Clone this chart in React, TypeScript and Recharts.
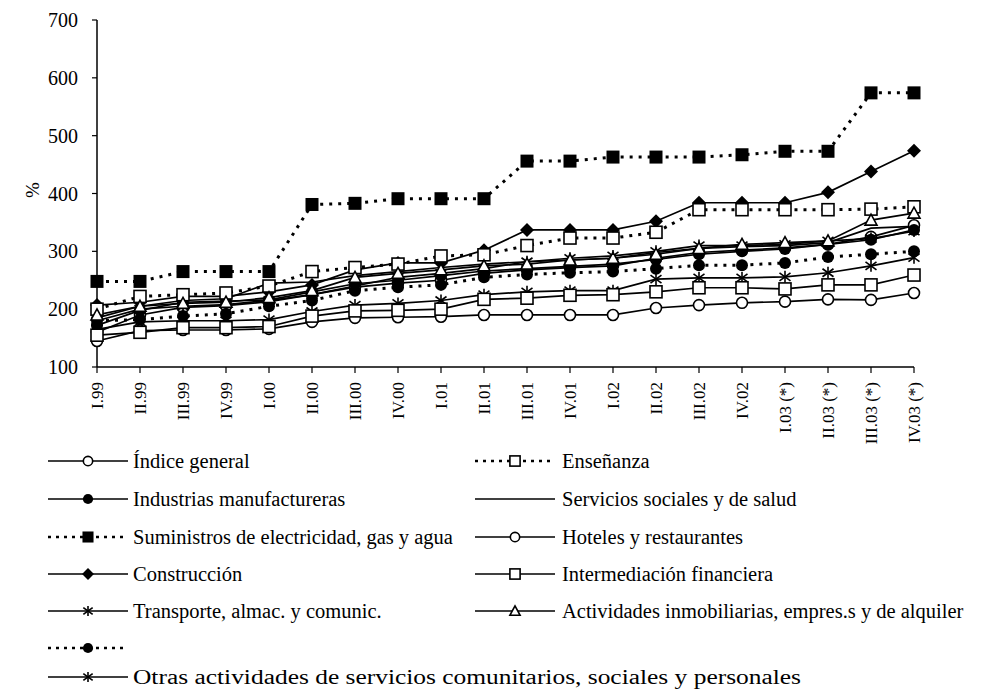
import { LineChart, Line, XAxis, YAxis } from 'recharts'

const categories = ['I.99', 'II.99', 'III.99', 'IV.99', 'I.00', 'II.00', 'III.00', 'IV.00', 'I.01', 'II.01', 'III.01', 'IV.01', 'I.02', 'II.02', 'III.02', 'IV.02', 'I.03 (*)', 'II.03 (*)', 'III.03 (*)', 'IV.03 (*)']
const yTicks = [100, 200, 300, 400, 500, 600, 700]

const indiceGeneral = [160, 190, 203, 206, 213, 225, 238, 245, 250, 262, 268, 272, 275, 288, 298, 302, 306, 312, 325, 345]
const industrias = [172, 198, 212, 214, 216, 230, 244, 250, 258, 266, 270, 274, 278, 286, 295, 300, 304, 312, 320, 337]
const suministros = [248, 248, 265, 265, 265, 381, 383, 391, 391, 391, 456, 456, 463, 463, 463, 467, 473, 473, 574, 574]
const construccion = [207, 212, 222, 222, 230, 242, 268, 280, 280, 302, 337, 337, 337, 352, 384, 384, 384, 402, 438, 474]
const transporte = [180, 200, 205, 208, 215, 225, 240, 255, 262, 270, 282, 288, 292, 300, 310, 310, 312, 318, 322, 335]
const sinNombre = [180, 182, 188, 192, 205, 215, 232, 238, 242, 255, 260, 263, 265, 270, 276, 276, 280, 290, 295, 300]
const otras = [165, 178, 180, 180, 182, 196, 207, 210, 215, 225, 230, 232, 232, 252, 254, 254, 256, 263, 275, 289]
const ensenanza = [200, 222, 225, 228, 240, 265, 272, 278, 292, 294, 310, 323, 323, 333, 372, 372, 372, 372, 373, 377]
const servicios = [185, 205, 215, 218, 245, 247, 258, 265, 272, 278, 282, 285, 288, 298, 305, 308, 310, 315, 340, 343]
const hoteles = [145, 163, 164, 164, 166, 178, 185, 186, 187, 190, 190, 190, 190, 202, 207, 211, 213, 217, 216, 228]
const intermediacion = [155, 160, 168, 168, 170, 188, 197, 198, 200, 217, 219, 224, 225, 230, 237, 237, 235, 242, 242, 259]
const actividades = [190, 205, 210, 212, 220, 232, 255, 262, 268, 275, 278, 285, 288, 295, 305, 312, 315, 318, 354, 366]

type Shape = 'openCircle' | 'filledCircle' | 'filledSquare' | 'diamond' | 'asterisk' | 'openSquare' | 'triangle' | 'none'

interface SeriesDef {
  key: string
  name: string
  values: number[]
  shape: Shape
  dotted: boolean
}

const series: SeriesDef[] = [
  { key: 'ig', name: 'Índice general', values: indiceGeneral, shape: 'openCircle', dotted: false },
  { key: 'im', name: 'Industrias manufactureras', values: industrias, shape: 'filledCircle', dotted: false },
  { key: 'su', name: 'Suministros de electricidad, gas y agua', values: suministros, shape: 'filledSquare', dotted: true },
  { key: 'co', name: 'Construcción', values: construccion, shape: 'diamond', dotted: false },
  { key: 'tr', name: 'Transporte, almac. y comunic.', values: transporte, shape: 'asterisk', dotted: false },
  { key: 'sn', name: '', values: sinNombre, shape: 'filledCircle', dotted: true },
  { key: 'ot', name: 'Otras actividades de servicios comunitarios, sociales y personales', values: otras, shape: 'asterisk', dotted: false },
  { key: 'en', name: 'Enseñanza', values: ensenanza, shape: 'openSquare', dotted: true },
  { key: 'ss', name: 'Servicios sociales y de salud', values: servicios, shape: 'none', dotted: false },
  { key: 'ho', name: 'Hoteles y restaurantes', values: hoteles, shape: 'openCircle', dotted: false },
  { key: 'if', name: 'Intermediación financiera', values: intermediacion, shape: 'openSquare', dotted: false },
  { key: 'ai', name: 'Actividades inmobiliarias, empres.s y de alquiler', values: actividades, shape: 'triangle', dotted: false },
]

const data = categories.map((cat, i) => {
  const row: Record<string, string | number> = { cat }
  series.forEach(s => { row[s.key] = s.values[i] })
  return row
})

const FONT = "'Liberation Serif', 'Times New Roman', serif"

function Marker({ shape, cx, cy, k = 1 }: { shape: Shape; cx: number; cy: number; k?: number }) {
  switch (shape) {
    case 'openCircle':
      return <circle cx={cx} cy={cy} r={5.5 * k} fill="#fff" stroke="#000" strokeWidth={1.6} />
    case 'filledCircle':
      return <circle cx={cx} cy={cy} r={6 * k} fill="#000" />
    case 'filledSquare':
      return <rect x={cx - 6.5 * k} y={cy - 6.5 * k} width={13 * k} height={13 * k} fill="#000" />
    case 'openSquare':
      return <rect x={cx - 6 * k} y={cy - 6 * k} width={12 * k} height={12 * k} fill="#fff" stroke="#000" strokeWidth={1.6} />
    case 'diamond':
      return <path d={`M${cx},${cy - 7 * k} L${cx + 7 * k},${cy} L${cx},${cy + 7 * k} L${cx - 7 * k},${cy} Z`} fill="#000" />
    case 'triangle':
      return <path d={`M${cx},${cy - 6 * k} L${cx + 6 * k},${cy + 5 * k} L${cx - 6 * k},${cy + 5 * k} Z`} fill="#fff" stroke="#000" strokeWidth={1.6} />
    case 'asterisk':
      return (
        <g stroke="#000" strokeWidth={1.6}>
          <line x1={cx} y1={cy - 6 * k} x2={cx} y2={cy + 6 * k} />
          <line x1={cx - 5.5 * k} y1={cy - 4 * k} x2={cx + 5.5 * k} y2={cy + 4 * k} />
          <line x1={cx - 5.5 * k} y1={cy + 4 * k} x2={cx + 5.5 * k} y2={cy - 4 * k} />
        </g>
      )
    default:
      return null
  }
}

const makeDot = (shape: Shape) => (props: any) => {
  const { cx, cy, index } = props
  if (cx == null || cy == null) return <g key={index} />
  return <Marker key={index} shape={shape} cx={cx} cy={cy} />
}

const XTick = (props: any) => {
  const { x, y, payload } = props
  return (
    <text
      transform={`translate(${x},${y}) rotate(-90)`}
      textAnchor="end"
      dy="0.35em"
      fontSize={17}
      fontFamily={FONT}
      fill="#000"
    >
      {payload.value}
    </text>
  )
}

const leftRows = [461, 499, 537, 574, 611, 648, 677]
const rightRows = [461, 499, 537, 574, 611]

function LegendItem({ s, x1, x2, tx, y, stretch }: { s: SeriesDef; x1: number; x2: number; tx: number; y: number; stretch?: number }) {
  return (
    <g>
      <line
        x1={x1}
        x2={x2}
        y1={y}
        y2={y}
        stroke="#000"
        strokeWidth={s.dotted ? 2.5 : 1.6}
        strokeDasharray={s.dotted ? '3 5' : undefined}
      />
      <Marker shape={s.shape} cx={(x1 + x2) / 2} cy={y} k={0.85} />
      {s.name && (
        <text
          x={tx}
          y={y}
          dy="0.35em"
          fontSize={20.5}
          fontFamily={FONT}
          fill="#000"
          textLength={stretch}
          lengthAdjust={stretch ? 'spacingAndGlyphs' : undefined}
        >
          {s.name}
        </text>
      )}
    </g>
  )
}

export default function App() {
  const left = series.slice(0, 7)
  const right = series.slice(7)
  return (
    <div style={{ position: 'relative', width: 983, height: 690, background: '#fff', fontFamily: FONT }}>
      <style>{'body{margin:0}'}</style>
      <div style={{ position: 'absolute', left: 0, top: 0 }}>
        <LineChart width={983} height={460} data={data} margin={{ top: 20, right: 69, bottom: 13, left: 37 }}>
          <XAxis
            dataKey="cat"
            interval={0}
            height={80}
            tick={<XTick />}
            tickSize={6}
            tickMargin={9}
            axisLine={{ stroke: '#000', strokeWidth: 1.5 }}
            tickLine={{ stroke: '#000', strokeWidth: 1.2 }}
          />
          <YAxis
            type="number"
            domain={[100, 700]}
            ticks={yTicks}
            width={60}
            tickSize={5}
            tickMargin={14}
            tick={{ fontSize: 20, fill: '#000', fontFamily: FONT }}
            axisLine={{ stroke: '#000', strokeWidth: 1.5 }}
            tickLine={{ stroke: '#000', strokeWidth: 1.2 }}
          />
          {series.map(s => (
            <Line
              key={s.key}
              dataKey={s.key}
              name={s.name}
              type="linear"
              stroke="#000"
              strokeWidth={s.dotted ? 3 : 1.7}
              strokeDasharray={s.dotted ? '3 6' : undefined}
              dot={s.shape === 'none' ? false : makeDot(s.shape)}
              activeDot={false}
              isAnimationActive={false}
            />
          ))}
        </LineChart>
      </div>
      <svg width={983} height={690} style={{ position: 'absolute', left: 0, top: 0, pointerEvents: 'none' }}>
        <text transform="translate(32,190) rotate(-90)" textAnchor="middle" dy="0.35em" fontSize={19} fontFamily={FONT} fill="#000">
          %
        </text>
        {left.map((s, i) => (
          <LegendItem key={s.key} s={s} x1={48} x2={128} tx={133} y={leftRows[i]} stretch={s.key === 'ot' ? 668 : undefined} />
        ))}
        {right.map((s, i) => (
          <LegendItem key={s.key} s={s} x1={475} x2={555} tx={562} y={rightRows[i]} />
        ))}
      </svg>
    </div>
  )
}
